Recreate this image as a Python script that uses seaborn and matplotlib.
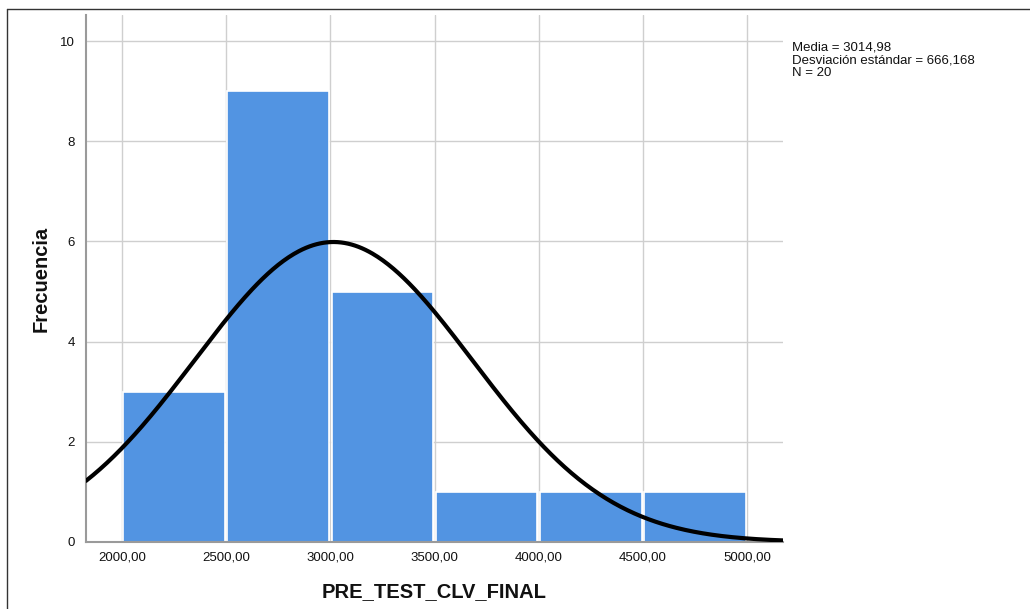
import numpy as np
import pandas as pd
import seaborn as sns
import matplotlib
matplotlib.use("Agg")
import matplotlib.pyplot as plt
from matplotlib.lines import Line2D

# Data
bin_edges = [2000, 2500, 3000, 3500, 4000, 4500, 5000]
counts = [3, 9, 5, 1, 1, 1]
mean_val = 3014.98
sd_val = 666.168
n_val = 20
x_ticks = [2000, 2500, 3000, 3500, 4000, 4500, 5000]
y_ticks = [0, 2, 4, 6, 8, 10]

sns.set_theme(style="white")
plt.rcParams['font.family'] = ['Liberation Sans', 'DejaVu Sans']

fig = plt.figure(figsize=(10.3, 6.09), dpi=100)
ax = fig.add_axes([86/1030, 1-542/609, (783-86)/1030, (542-15)/609])

centers = [(bin_edges[i] + bin_edges[i+1]) / 2 for i in range(len(counts))]
df = pd.DataFrame({"x": centers, "w": counts})
sns.histplot(data=df, x="x", weights="w", bins=bin_edges, ax=ax,
             color="#5294e2", alpha=1, edgecolor="white", linewidth=1.2,
             shrink=0.975, zorder=2)

binw = bin_edges[1] - bin_edges[0]
xs = np.linspace(1827, 5173, 400)
ys = n_val * binw / (sd_val * np.sqrt(2*np.pi)) * np.exp(-0.5*((xs-mean_val)/sd_val)**2)
sns.lineplot(x=xs, y=ys, ax=ax, color="black", linewidth=3, zorder=3)

ax.set_xlim(1827, 5173)
ax.set_ylim(0, 10.52)
ax.set_xticks(x_ticks)
ax.set_xticklabels([f"{t:.2f}".replace(".", ",") for t in x_ticks])
ax.set_yticks(y_ticks)
ax.set_yticklabels([str(t) for t in y_ticks])
ax.tick_params(axis="both", length=0, labelsize=9.5, colors="#111111")
ax.tick_params(axis="x", pad=7)
ax.tick_params(axis="y", pad=8)
ax.grid(True, color="#cfcfcf", linewidth=1, zorder=0)
ax.set_axisbelow(True)
for s in ["top", "right"]:
    ax.spines[s].set_visible(False)
for s in ["left", "bottom"]:
    ax.spines[s].set_color("#9a9a9a")
    ax.spines[s].set_linewidth(1.5)
ax.set_xlabel("PRE_TEST_CLV_FINAL", fontsize=14.5, fontweight="bold", labelpad=13, color="#111111")
ax.set_ylabel("Frecuencia", fontsize=14.5, fontweight="bold", labelpad=7, color="#111111")

fig.text(792/1030, 1-41/609,
         f"Media = {mean_val:.2f}".replace(".", ",") + "\n" +
         f"Desviación estándar = {sd_val:.3f}".replace(".", ",") + "\n" +
         f"N = {n_val}",
         fontsize=9.5, va="top", ha="left", color="#111111", linespacing=1.12)

# figure border (left and top)
fig.add_artist(Line2D([7/1030, 7/1030], [0, 1-9/609], color="#333333", linewidth=1, transform=fig.transFigure))
fig.add_artist(Line2D([7/1030, 1], [1-9/609, 1-9/609], color="#333333", linewidth=1, transform=fig.transFigure))

fig.savefig("out.png", dpi=100)
